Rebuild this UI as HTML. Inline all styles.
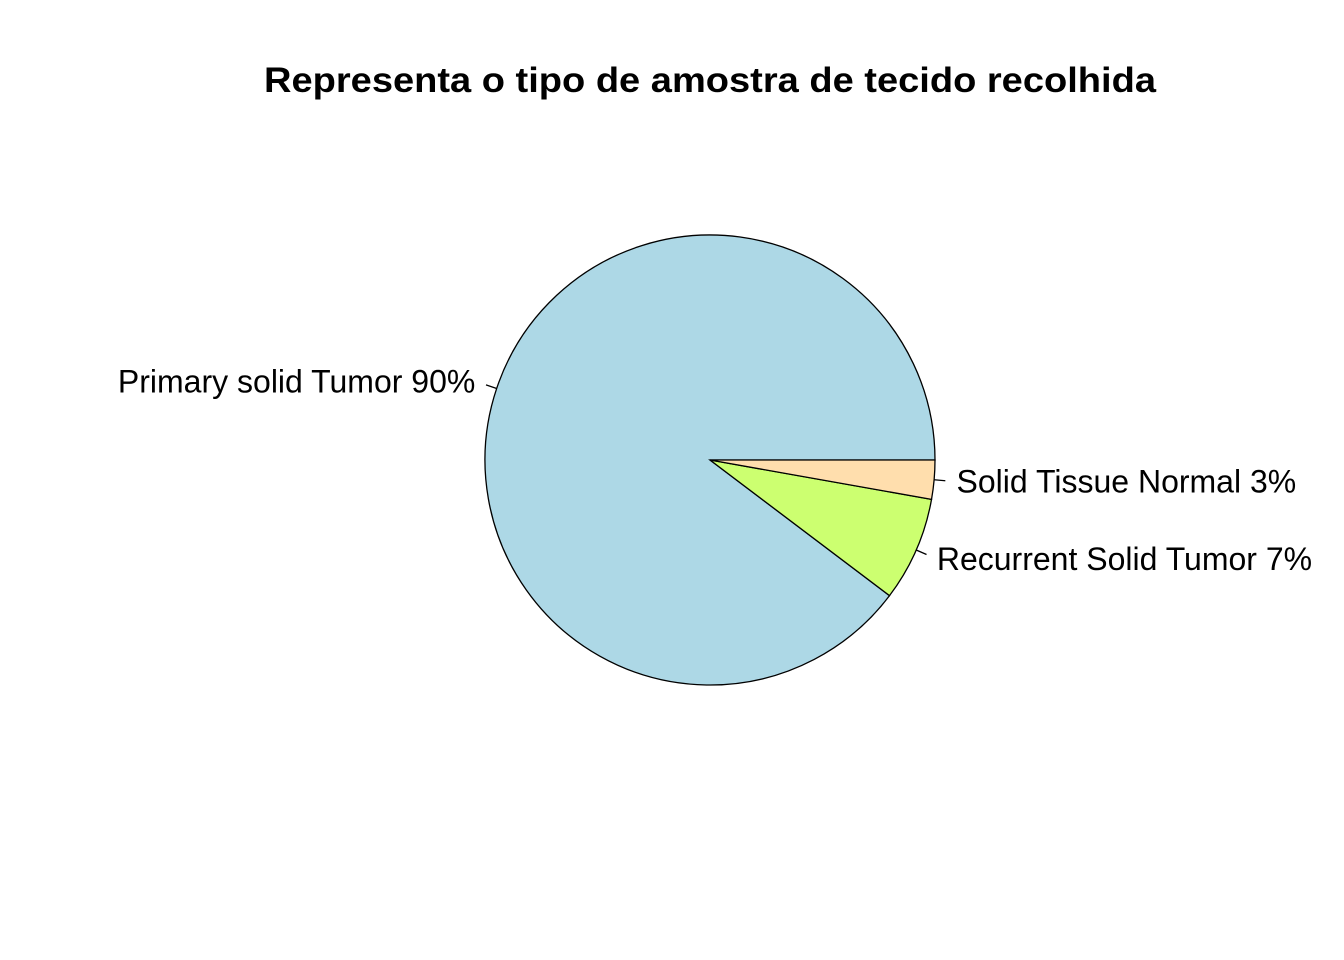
<!DOCTYPE html>
<html><head><meta charset="utf-8"><style>
html,body{margin:0;padding:0;background:#fff;}
svg{display:block;font-family:"Liberation Sans",Arial,sans-serif;}
</style></head><body>
<svg id="chart" width="1344" height="960" viewBox="0 0 1344 960">
<rect width="1344" height="960" fill="#fff"/>
<text x="710" y="92" text-anchor="middle" font-size="35" font-weight="bold" textLength="892" lengthAdjust="spacingAndGlyphs">Representa o tipo de amostra de tecido recolhida</text>
<g id="slices"></g>
</svg>
<script>
const categories = ["Primary solid Tumor", "Recurrent Solid Tumor", "Solid Tissue Normal"];
const values = [89.7, 7.5, 2.8];
const pctLabels = ["90%", "7%", "3%"];
const colors = ["#ADD8E6", "#CCFF70", "#FFDEAD"];
const cx = 710, cy = 460, R = 225;
const g = document.getElementById('slices');
const NS = "http://www.w3.org/2000/svg";
const total = values.reduce((a,b)=>a+b,0);
function pt(a, r){ return [cx + r*Math.cos(a), cy - r*Math.sin(a)]; }
let start = 0;
values.forEach((v,i)=>{
  const sweep = v/total*2*Math.PI;
  const end = start + sweep;
  const p0 = pt(start,R), p1 = pt(end,R);
  const large = sweep > Math.PI ? 1 : 0;
  const path = document.createElementNS(NS,'path');
  path.setAttribute('d', `M${cx},${cy} L${p0[0]},${p0[1]} A${R},${R} 0 ${large} 0 ${p1[0]},${p1[1]} Z`);
  path.setAttribute('fill', colors[i]);
  path.setAttribute('stroke', '#000');
  path.setAttribute('stroke-width', '1.3');
  
  
  g.appendChild(path);
  const mid = (start+end)/2;
  const t0 = pt(mid,R), t1 = pt(mid,R*1.05), tl = pt(mid,R*1.1);
  const tick = document.createElementNS(NS,'line');
  tick.setAttribute('x1',t0[0]); tick.setAttribute('y1',t0[1]);
  tick.setAttribute('x2',t1[0]); tick.setAttribute('y2',t1[1]);
  tick.setAttribute('stroke','#000'); tick.setAttribute('stroke-width','1.3');
  
  
  g.appendChild(tick);
  const txt = document.createElementNS(NS,'text');
  txt.setAttribute('x', tl[0]);
  txt.setAttribute('y', tl[1] + 11);
  txt.setAttribute('font-size', '32');
  txt.setAttribute('text-anchor', Math.cos(mid) < 0 ? 'end' : 'start');
  txt.textContent = categories[i] + ' ' + pctLabels[i];
  
  
  g.appendChild(txt);
  start = end;
});
</script>
</body></html>
